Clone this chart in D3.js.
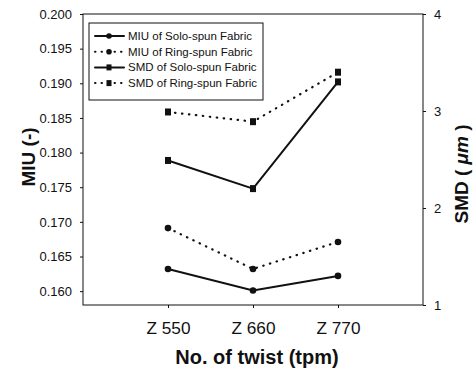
<!DOCTYPE html>
<html>
<head>
<meta charset="utf-8">
<script src="https://cdn.jsdelivr.net/npm/d3@7"></script>
<style>
  body { margin: 0; background: #fff; }
  text { font-family: "Liberation Sans", Arial, sans-serif; fill: #111; }
</style>
</head>
<body>
<svg id="chart" width="473" height="376"></svg>
<script>
// twist levels, placed at slots 1..3 of a 0..4 axis
var twists = ["Z 550", "Z 660", "Z 770"];
var twistPos = [1, 2, 3];

// MIU (left axis)
var miuSolo = [0.1632, 0.1601, 0.1622];
var miuRing = [0.1691, 0.1632, 0.1671];

// SMD in um (right axis)
var smdSolo = [2.49, 2.20, 3.30];
var smdRing = [2.99, 2.89, 3.40];

var miuTicks = [0.160, 0.165, 0.170, 0.175, 0.180, 0.185, 0.190, 0.195, 0.200];
var smdTicks = [1, 2, 3, 4];

var legendNames = ["MIU of Solo-spun Fabric", "MIU of Ring-spun Fabric",
                   "SMD of Solo-spun Fabric", "SMD of Ring-spun Fabric"];

var svg = d3.select("#chart");
// plot box (note: "top" is reserved on window, so use pLeft etc.)
var pLeft = 83, pRight = 423, pTop = 14, pBottom = 305;
var ink = "#111";
var dots = "0.5,6.5";

var x = d3.scaleLinear().domain([0, 4]).range([pLeft, pRight]);
var yL = d3.scaleLinear().domain([0.158, 0.200]).range([pBottom, pTop]);
var yR = d3.scaleLinear().domain([1, 4]).range([pBottom, pTop]);

// frame
svg.append("rect")
        .attr("x", pLeft).attr("y", pTop)
        .attr("width", pRight - pLeft).attr("height", pBottom - pTop)
        .attr("fill", "none").attr("stroke", ink).attr("stroke-width", 1);

// axes
var axL = svg.append("g").attr("transform", "translate(" + pLeft + ",0)")
        .call(d3.axisLeft(yL).tickValues(miuTicks).tickFormat(d3.format(".3f")).tickSize(3).tickPadding(8));
var axR = svg.append("g").attr("transform", "translate(" + pRight + ",0)")
        .call(d3.axisRight(yR).tickValues(smdTicks).tickFormat(d3.format("d")).tickSize(3).tickPadding(8));
var axB = svg.append("g").attr("transform", "translate(0," + pBottom + ")")
        .call(d3.axisBottom(x).tickValues(twistPos).tickFormat(function(d, i) { return twists[i]; }).tickSize(3).tickPadding(14));
[axL, axR, axB].forEach(function(a) {
        a.select(".domain").remove();
        a.selectAll("line").attr("stroke", ink);
        a.selectAll("text").attr("font-size", "13px").attr("fill", ink);
});
axB.selectAll("text").attr("font-size", "16.5px").attr("textLength", 44).attr("lengthAdjust", "spacingAndGlyphs");

// axis titles
svg.append("text")
        .attr("x", 257).attr("y", 364)
        .attr("text-anchor", "middle")
        .attr("font-size", "20px").attr("font-weight", "bold")
        .text("No. of twist (tpm)");
svg.append("text")
        .attr("transform", "translate(35,157) rotate(-90)")
        .attr("text-anchor", "middle")
        .attr("font-size", "19px").attr("font-weight", "bold")
        .text("MIU (-)");
var rt = svg.append("text")
        .attr("transform", "translate(468,174) rotate(-90)")
        .attr("text-anchor", "middle")
        .attr("font-size", "19px").attr("font-weight", "bold");
rt.append("tspan").text("SMD ( ");
rt.append("tspan").attr("font-style", "italic").text("\u03bcm");
rt.append("tspan").text(" )");

// series
var series = [
        { vals: miuSolo, y: yL, dash: null, shape: "circle" },
        { vals: miuRing, y: yL, dash: dots, shape: "circle" },
        { vals: smdSolo, y: yR, dash: null, shape: "square" },
        { vals: smdRing, y: yR, dash: dots, shape: "square" }
];

series.forEach(function(s) {
        var line = d3.line()
                .x(function(d, i) { return x(twistPos[i]); })
                .y(function(d) { return s.y(d); });
        svg.append("path")
                .attr("d", line(s.vals))
                .attr("fill", "none")
                .attr("stroke", ink)
                .attr("stroke-width", s.dash ? 2.2 : 2)
                .attr("stroke-linecap", "round")
                .attr("stroke-dasharray", s.dash);
        drawMarkers(s.vals.map(function(d, i) { return [x(twistPos[i]), s.y(d)]; }), s.shape);
});

function drawMarkers(pts, shape) {
        pts.forEach(function(p) {
                if (shape == "circle") {
                        svg.append("circle").attr("cx", p[0]).attr("cy", p[1]).attr("r", 3.3).attr("fill", ink);
                } else {
                        svg.append("rect").attr("x", p[0] - 3).attr("y", p[1] - 3.5)
                                .attr("width", 6).attr("height", 7).attr("fill", ink);
                }
        });
}

// legend
var lg = svg.append("g");
lg.append("rect")
        .attr("x", 89).attr("y", 23).attr("width", 174).attr("height", 77)
        .attr("fill", "#fff").attr("stroke", ink).attr("stroke-width", 1);
legendNames.forEach(function(name, i) {
        var yy = 36 + i * 15.7;
        var s = series[i];
        lg.append("line")
                .attr("x1", 95).attr("x2", 124).attr("y1", yy).attr("y2", yy)
                .attr("stroke", ink).attr("stroke-width", 2)
                .attr("stroke-dasharray", s.dash ? "0.5,6" : null)
                .attr("stroke-linecap", "round");
        if (s.shape == "circle") {
                lg.append("circle").attr("cx", 109).attr("cy", yy).attr("r", 2.8).attr("fill", ink);
        } else {
                lg.append("rect").attr("x", 106.5).attr("y", yy - 3).attr("width", 5).attr("height", 6).attr("fill", ink);
        }
        lg.append("text")
                .attr("x", 128).attr("y", yy + 4)
                .attr("font-size", "11.5px")
                .text(name);
});
</script>
</body>
</html>
